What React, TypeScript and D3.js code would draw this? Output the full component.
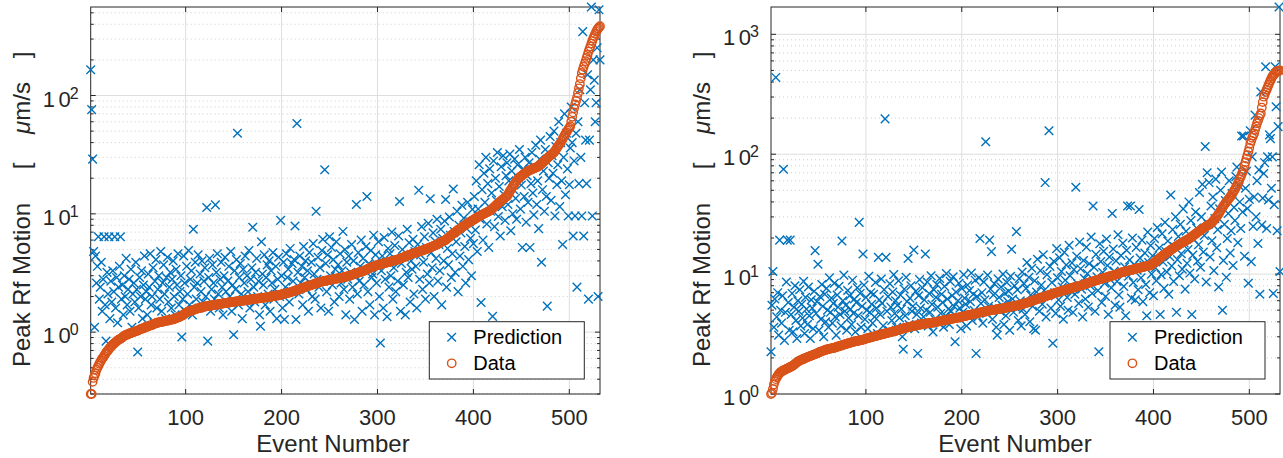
import React, { useEffect, useRef } from 'react'
import * as d3 from 'd3'

const W = 1283
const H = 458
const TOP = 7
const BOTTOM = 394
const FONT = '"Liberation Sans", Arial, Helvetica, sans-serif'
const INK = '#262626'
const BLUE = '#0072BD'
const ORANGE = '#D95319'

const xTicks = [100, 200, 300, 400, 500]
const legendLabels = ['Prediction', 'Data']
const xLabel = 'Event Number'
const nEvents = 532

// left panel: measured peak motion, sorted
const dataLeft = [
  0.30, 0.30, 0.38, 0.41, 0.43, 0.45, 0.48, 0.50, 0.52, 0.54, 0.56, 0.58, 0.60, 0.61,
  0.63, 0.65, 0.67, 0.69, 0.70, 0.72, 0.74, 0.75, 0.77, 0.78, 0.80, 0.81, 0.82, 0.84,
  0.85, 0.86, 0.87, 0.88, 0.89, 0.90, 0.92,
  0.93, 0.94, 0.95, 0.95, 0.96, 0.97, 0.98, 0.98, 0.99, 1.00, 1.00, 1.01, 1.02, 1.02, 1.03, 1.04, 1.05,
  1.06, 1.07, 1.07, 1.08, 1.09, 1.10, 1.11, 1.11, 1.12, 1.13, 1.14, 1.14, 1.15, 1.16, 1.17, 1.18, 1.19, 1.20,
  1.20, 1.21, 1.21, 1.22, 1.22, 1.23, 1.23, 1.24, 1.24, 1.25, 1.25, 1.26, 1.26, 1.27, 1.27, 1.28, 1.28,
  1.29, 1.30, 1.31, 1.32, 1.33, 1.34, 1.35, 1.36, 1.38, 1.39, 1.41, 1.43, 1.45, 1.47,
  1.48, 1.49, 1.50, 1.51, 1.52, 1.53, 1.54, 1.55, 1.56, 1.57, 1.58, 1.59, 1.60, 1.60, 1.61, 1.62, 1.63, 1.64, 1.64, 1.65, 1.66,
  1.66, 1.67, 1.67, 1.68, 1.68, 1.69, 1.69, 1.70, 1.70, 1.71, 1.71, 1.72, 1.72, 1.73, 1.73, 1.74, 1.75,
  1.75, 1.76, 1.76, 1.77, 1.77, 1.78, 1.78, 1.79, 1.79, 1.80, 1.80, 1.81, 1.81, 1.82, 1.82, 1.83, 1.83, 1.83,
  1.84, 1.84, 1.85, 1.85, 1.86, 1.86, 1.87, 1.87, 1.88, 1.88, 1.89, 1.89, 1.90, 1.90, 1.91, 1.91, 1.92,
  1.92, 1.93, 1.93, 1.94, 1.94, 1.95, 1.95, 1.96, 1.96, 1.97, 1.97, 1.98, 1.98, 1.99, 2.00, 2.00, 2.01, 2.02, 2.02, 2.03, 2.04, 2.04, 2.05, 2.06, 2.07, 2.08,
  2.09, 2.10, 2.11, 2.12, 2.13, 2.14, 2.15, 2.16, 2.17, 2.18, 2.20, 2.21, 2.22, 2.24, 2.25, 2.27, 2.28, 2.30, 2.31, 2.33, 2.34, 2.36, 2.38, 2.39, 2.41, 2.43,
  2.44, 2.46, 2.47, 2.49, 2.50, 2.52, 2.53, 2.55, 2.56, 2.58, 2.59, 2.61, 2.62, 2.64, 2.65, 2.67, 2.69,
  2.70, 2.71, 2.72, 2.73, 2.74, 2.75, 2.76, 2.77, 2.78, 2.79, 2.80, 2.81, 2.82, 2.83, 2.84, 2.85, 2.86, 2.87, 2.88, 2.89, 2.90, 2.91, 2.92, 2.94, 2.95, 2.96, 2.98, 3.00,
  3.02, 3.04, 3.06, 3.08, 3.10, 3.12, 3.14, 3.16, 3.18, 3.20, 3.22, 3.24, 3.26, 3.28, 3.30, 3.33, 3.36, 3.39, 3.42, 3.45, 3.48, 3.51, 3.54, 3.57, 3.60,
  3.62, 3.64, 3.66, 3.68, 3.70, 3.72, 3.74, 3.76, 3.78, 3.80, 3.82, 3.84, 3.86, 3.88, 3.90, 3.92, 3.94, 3.96, 3.98, 4.00, 4.02, 4.04, 4.06, 4.08, 4.10, 4.13, 4.16, 4.19, 4.22, 4.25, 4.28, 4.31, 4.35, 4.40,
  4.43, 4.46, 4.49, 4.52, 4.55, 4.58, 4.61, 4.64, 4.67, 4.70, 4.73, 4.76, 4.79, 4.82, 4.85, 4.88, 4.91, 4.94, 4.97, 5.00, 5.04, 5.08, 5.12, 5.16, 5.20, 5.24, 5.28, 5.32, 5.36, 5.40, 5.45, 5.50, 5.55, 5.60, 5.70,
  5.75, 5.80, 5.85, 5.90, 5.95, 6.0, 6.1, 6.2, 6.3, 6.4, 6.5, 6.6, 6.7, 6.8, 6.9, 7.0, 7.1,
  7.2, 7.3, 7.4, 7.5, 7.6, 7.7, 7.8, 7.9, 8.0, 8.1, 8.2, 8.3, 8.4, 8.5, 8.6, 8.7, 8.8, 8.9,
  9.0, 9.1, 9.2, 9.3, 9.4, 9.5, 9.6, 9.7, 9.8, 9.9, 10.0, 10.1, 10.2, 10.3, 10.4, 10.5, 10.6, 10.7,
  10.9, 11.1, 11.3, 11.5, 11.7, 11.9, 12.1, 12.3, 12.5, 12.7, 12.9, 13.1, 13.3, 13.5, 13.7, 13.9, 14.1,
  14.5, 15, 15.5, 16, 16.5, 17, 17.5, 18, 18.5, 19, 19.5, 20, 20.3, 20.6, 20.9, 21.2, 21.5, 21.8, 22.1, 22.4, 22.7,
  23, 23.2, 23.4, 23.6, 23.8, 24, 24.2, 24.4, 24.6, 24.8, 25, 25.3, 25.6, 26,
  26.5, 27, 27.5, 28, 28.5, 29, 29.5, 30, 30.5, 31, 31.5, 32, 32.5, 33,
  34, 35, 36, 37, 38, 39, 40,
  41.5, 43, 44.5, 46, 47.5, 49, 50.5, 52, 53.5, 55,
  60, 66, 72, 78, 84, 90, 96,
  105, 115, 125, 140, 155,
  165, 175, 185, 195, 208,
  220, 235, 248, 260,
  275, 290, 305, 318, 332, 347,
  358, 368, 377, 385,
]

const predLeft = [
  165, 76, 29, 4.8, 1.1, 4.4, 2.6, 3.6, 6.4, 1.9, 2.4, 3.9, 1.5, 2.8, 6.4, 1.7, 0.84, 3.2, 2.1, 6.4,
  1.3, 2.7, 1.8, 3.3, 2.2, 6.4, 1.6, 2.9, 1.2, 2.4, 3.6, 6.4, 1.9, 2.5, 1.4, 3.0, 2.0, 4.2, 1.7, 2.3,
  2.8, 1.5, 3.4, 1.1, 2.1, 2.6, 1.8, 3.9, 2.3, 0.68, 1.6, 2.9, 2.0, 3.3, 1.3, 2.5, 4.4, 1.9, 2.2, 1.4,
  3.1, 2.4, 4.6, 1.7, 2.0, 3.5, 1.2, 2.7, 4.1, 1.6, 2.3, 3.0, 1.9, 4.8, 1.5, 2.6, 3.7, 2.1, 1.3, 2.9,
  4.3, 1.8, 2.4, 3.2, 1.6, 2.8, 4.0, 2.0, 1.4, 3.4, 2.5, 4.6, 1.7, 2.2, 3.0, 0.91, 1.9, 4.4, 2.6, 1.5,
  3.6, 2.1, 4.9, 1.7, 2.8, 3.3, 1.4, 7.4, 2.4, 3.9, 1.9, 2.6, 4.5, 1.6, 3.1, 2.2, 4.0, 1.8, 2.7, 3.5,
  2.0, 11.3, 0.84, 2.9, 4.2, 1.5, 2.3, 3.7, 2.6, 1.9, 11.9, 3.2, 4.6, 2.1, 1.6, 2.8, 3.9, 2.4, 1.4, 3.0,
  4.3, 2.2, 1.8, 2.7, 3.6, 2.0, 4.8, 1.5, 2.5, 0.95, 3.3, 2.3, 4.1, 48, 1.7, 2.9, 3.8, 2.1, 1.3, 3.4,
  2.6, 4.4, 1.9, 3.0, 2.2, 4.9, 1.6, 2.8, 3.5, 7.7, 2.4, 1.8, 3.2, 4.2, 2.0, 2.7, 1.4, 1.12, 5.8, 3.1,
  2.5, 4.5, 1.7, 2.9, 3.7, 2.1, 4.0, 1.5, 3.3, 2.6, 4.7, 1.9, 2.3, 3.6, 1.3, 2.8, 4.3, 2.0, 8.8, 3.0,
  1.6, 3.9, 1.28, 2.4, 4.6, 2.9, 3.4, 1.8, 5.1, 2.2, 3.8, 2.7, 4.1, 7.9, 1.28, 58, 3.2, 2.1, 4.4, 2.6,
  3.6, 1.7, 5.3, 2.9, 4.0, 2.3, 3.3, 1.5, 4.7, 2.6, 3.9, 2.0, 5.6, 3.1, 1.9, 10.5, 2.8, 4.3, 2.4, 3.5,
  1.6, 4.9, 6.1, 2.7, 23.6, 3.8, 2.2, 4.5, 1.5, 6.4, 3.0, 5.2, 2.5, 4.1, 1.8, 3.4, 5.8, 2.9, 3.7, 2.0,
  4.6, 2.6, 3.3, 7.1, 2.3, 5.0, 1.4, 3.9, 2.8, 4.4, 1.9, 3.2, 5.5, 2.4, 4.0, 1.28, 3.0, 12, 2.1, 4.7,
  2.7, 3.6, 6.0, 1.5, 4.2, 2.5, 3.4, 5.3, 14, 2.2, 3.8, 1.7, 4.9, 2.9, 3.1, 6.6, 1.4, 4.5, 2.6, 3.7,
  5.8, 2.0, 0.81, 3.3, 4.4, 1.6, 6.3, 2.8, 3.9, 1.35, 5.1, 2.4, 4.6, 3.0, 7.0, 1.9, 3.5, 5.4, 2.2, 4.1,
  2.7, 6.5, 12.7, 1.5, 3.8, 5.0, 2.5, 4.3, 1.4, 3.2, 7.4, 2.9, 5.7, 1.8, 4.0, 3.4, 6.1, 2.1, 4.8, 3.6,
  1.6, 5.5, 15.8, 2.8, 4.5, 7.8, 2.3, 3.9, 6.4, 1.9, 5.2, 3.1, 8.3, 2.6, 13.4, 4.7, 3.5, 6.9, 2.0, 5.9,
  4.2, 9.0, 2.7, 5.5, 3.3, 7.4, 1.7, 6.2, 4.0, 8.7, 13.2, 2.4, 5.1, 3.7, 9.4, 6.6, 2.9, 4.6, 16.2, 7.1,
  3.2, 5.8, 10.5, 2.2, 8.0, 4.4, 6.9, 11.8, 3.6, 9.2, 5.3, 2.6, 7.5, 12.5, 4.1, 8.6, 6.2, 3.0, 10.9, 5.6,
  14, 7.3, 19, 4.8, 11, 26, 9.0, 1.78, 16, 6.0, 22, 12.5, 30, 8.2, 18, 5.2, 24, 10.5, 15, 1.36,
  28, 7.8, 20, 13, 33, 9.5, 17, 6.5, 25, 11.5, 31, 14.5, 8.8, 21, 27, 12, 19, 32, 7.2, 23,
  10, 16, 29, 13.5, 9.0, 26, 20, 35, 11, 17.5, 5.2, 24, 14, 30, 8.5, 21, 12.5, 27, 5.2, 18,
  33, 15, 9.8, 25, 38, 12, 19, 7.5, 29, 42, 3.9, 16, 23, 10.5, 35, 14, 1.66, 27, 20, 45,
  13, 31, 22, 50, 9.6, 37, 17.6, 26, 60, 11.5, 40, 19, 5.5, 30, 70, 14.5, 48, 24, 9.6, 17.6,
  36, 80, 40, 6.5, 28, 9.6, 48, 2.4, 60, 18, 112, 30, 9.6, 347, 6.5, 87, 42, 18, 150, 1.9,
  42, 112, 560, 9.6, 200, 135, 60, 87, 253, 2.0, 530, 200,
]

// right panel: measured peak motion, sorted
const dataRight = [
  1.0, 1.02, 1.1, 1.2, 1.28, 1.33, 1.38, 1.42, 1.46, 1.5,
  1.52, 1.54, 1.56, 1.57, 1.59, 1.6, 1.62, 1.63, 1.65, 1.66, 1.68, 1.69, 1.71, 1.73, 1.75, 1.78, 1.81, 1.84,
  1.86, 1.88, 1.9, 1.92, 1.93, 1.95, 1.96, 1.98, 2.0, 2.01, 2.03, 2.04, 2.06, 2.07, 2.09, 2.1, 2.12, 2.13, 2.15, 2.16, 2.18, 2.2, 2.22, 2.24,
  2.26, 2.27, 2.29, 2.3, 2.32, 2.33, 2.35, 2.36, 2.37, 2.38, 2.39, 2.4, 2.41, 2.42, 2.43, 2.44, 2.46, 2.48,
  2.49, 2.5, 2.52, 2.53, 2.55, 2.56, 2.58, 2.59, 2.61, 2.62, 2.64, 2.65, 2.67, 2.68, 2.7, 2.71, 2.73, 2.74, 2.75, 2.76, 2.77, 2.78, 2.79, 2.8, 2.81, 2.82, 2.84, 2.85, 2.87, 2.89, 2.91,
  2.92, 2.94, 2.95, 2.97, 2.98, 3.0, 3.01, 3.03, 3.04, 3.06, 3.07, 3.09, 3.1, 3.12, 3.13, 3.15, 3.16, 3.18, 3.19, 3.21, 3.22, 3.24, 3.25, 3.27, 3.28, 3.3, 3.31, 3.33, 3.34, 3.36, 3.38, 3.4, 3.42, 3.44, 3.46, 3.48, 3.5, 3.53,
  3.54, 3.56, 3.57, 3.59, 3.6, 3.62, 3.63, 3.65, 3.66, 3.68, 3.69, 3.71, 3.72, 3.74, 3.75, 3.77, 3.78, 3.8, 3.81, 3.83, 3.84, 3.85, 3.86, 3.87, 3.88, 3.89, 3.9, 3.91, 3.92, 3.93, 3.94, 3.95, 3.96, 3.98, 4.0,
  4.02, 4.03, 4.05, 4.06, 4.08, 4.09, 4.11, 4.12, 4.14, 4.15, 4.17, 4.18, 4.2, 4.21, 4.23, 4.24, 4.26, 4.27, 4.29, 4.3, 4.32, 4.33, 4.35, 4.36, 4.38, 4.4,
  4.42, 4.44, 4.46, 4.48, 4.5, 4.52, 4.54, 4.56, 4.58, 4.6, 4.62, 4.63, 4.65, 4.67, 4.69, 4.71, 4.73, 4.75, 4.77, 4.79, 4.81, 4.83, 4.84, 4.86, 4.88, 4.9, 4.92, 4.94, 4.96, 4.98, 5.0, 5.01, 5.03, 5.04, 5.06, 5.07, 5.09, 5.1, 5.12, 5.13, 5.15, 5.16, 5.18, 5.2,
  5.22, 5.24, 5.26, 5.28, 5.3, 5.32, 5.34, 5.36, 5.38, 5.4, 5.42, 5.44, 5.46, 5.48, 5.5, 5.52, 5.55, 5.58, 5.61, 5.64, 5.67, 5.7, 5.73, 5.76, 5.8, 5.84, 5.88,
  5.92, 5.96, 6.0, 6.04, 6.08, 6.12, 6.16, 6.2, 6.24, 6.28, 6.32, 6.36, 6.4, 6.44, 6.48, 6.52, 6.56, 6.6, 6.64, 6.68, 6.72, 6.76, 6.8, 6.85, 6.9,
  6.94, 6.98, 7.02, 7.06, 7.1, 7.14, 7.18, 7.22, 7.26, 7.3, 7.34, 7.38, 7.42, 7.46, 7.5, 7.54, 7.58, 7.62, 7.66, 7.7, 7.74, 7.78, 7.82, 7.86, 7.9, 7.94, 7.98, 8.02, 8.06, 8.1, 8.15, 8.2, 8.25, 8.3, 8.4,
  8.45, 8.5, 8.55, 8.6, 8.65, 8.7, 8.75, 8.8, 8.85, 8.9, 8.95, 9.0, 9.05, 9.1, 9.15, 9.2, 9.25, 9.3, 9.35, 9.4, 9.45, 9.5, 9.55, 9.6, 9.65, 9.7, 9.75, 9.8, 9.85, 9.9, 9.95, 10.0, 10.1, 10.2,
  10.3, 10.35, 10.4, 10.45, 10.5, 10.55, 10.6, 10.65, 10.7, 10.75, 10.8, 10.85, 10.9, 10.95, 11.0, 11.05, 11.1, 11.15, 11.2, 11.25, 11.3, 11.35, 11.4, 11.45, 11.5, 11.55, 11.6, 11.65, 11.7, 11.75, 11.8, 11.9, 12.0, 12.1, 12.3,
  12.5, 12.7, 12.9, 13.1, 13.3, 13.5, 13.7, 13.9, 14.1, 14.3, 14.5, 14.7, 14.9, 15.1, 15.3, 15.5, 15.7, 15.9, 16.1, 16.3, 16.5,
  16.7, 16.9, 17.1, 17.3, 17.5, 17.7, 17.9, 18.1, 18.3, 18.5, 18.7, 18.9, 19.1, 19.3, 19.5, 19.7, 19.9, 20.2, 20.5, 20.8, 21.1, 21.4, 21.7, 22.0, 22.3, 22.6, 22.9, 23.2,
  23.5, 23.8, 24.1, 24.4, 24.7, 25.0, 25.3, 25.6, 25.9, 26.2, 26.5, 27, 27.6, 28.2, 28.8, 29.5, 30.2, 31, 31.8, 32.8, 34,
  35, 36, 37, 38, 39, 40, 41, 42, 43, 44, 45, 46.5, 48, 49.5, 51, 53, 55, 57, 59,
  62, 65, 68, 71, 74, 80, 86, 92, 98, 105, 113, 123,
  130, 137, 143, 149, 160, 170, 181, 190, 200, 210, 219, 245, 272, 302,
  315, 330, 345, 360, 378, 395, 412, 428, 445, 455, 465, 475, 490, 493, 495, 497, 500,
]

const predRight = [
  2.25, 5.5, 10.5, 3.6, 6.2, 437, 4.4, 7.0, 3.1, 19.2, 5.0, 3.9, 6.6, 75, 2.8, 4.8, 8.6, 19.2, 5.8, 3.4,
  19.2, 4.6, 6.9, 3.3, 5.3, 8.0, 4.1, 2.9, 6.0, 4.9, 7.4, 3.7, 5.6, 4.3, 8.7, 3.2, 6.4, 5.1, 3.8, 7.8,
  4.5, 2.9, 6.1, 5.2, 3.5, 7.2, 15.7, 4.7, 5.9, 12.1, 3.4, 6.5, 4.2, 8.2, 5.4, 3.0, 6.8, 4.0, 7.6, 5.0,
  3.6, 9.3, 4.8, 6.3, 3.9, 5.7, 8.4, 4.4, 3.1, 6.7, 5.3, 7.9, 4.6, 3.7, 18.9, 6.0, 9.8, 4.9, 5.5, 3.4,
  7.3, 4.3, 6.6, 5.1, 3.8, 8.9, 4.7, 6.2, 3.3, 5.8, 7.7, 4.5, 27, 6.9, 3.6, 5.4, 14.7, 8.1, 4.2, 6.4,
  5.0, 3.5, 9.6, 4.8, 7.0, 5.6, 3.9, 6.8, 4.4, 8.5, 5.2, 3.2, 13.8, 6.1, 4.6, 9.1, 5.7, 3.7, 7.4, 197,
  13.8, 4.9, 6.5, 3.4, 8.3, 5.3, 4.1, 7.1, 9.9, 4.7, 6.0, 3.6, 5.5, 8.8, 4.3, 6.7, 5.1, 3.0, 2.36, 7.5,
  4.5, 9.4, 5.9, 13.5, 3.8, 6.3, 8.0, 4.9, 5.4, 15.9, 3.5, 7.2, 4.6, 2.18, 6.6, 9.0, 5.2, 3.9, 7.7, 4.4,
  6.1, 14.7, 5.0, 8.6, 3.7, 6.9, 4.8, 9.7, 5.6, 3.3, 7.4, 4.2, 6.4, 8.2, 5.3, 3.9, 9.2, 4.7, 6.8, 5.8,
  3.6, 7.9, 4.5, 10.1, 6.2, 5.1, 3.8, 8.7, 4.9, 6.6, 9.5, 5.4, 2.73, 7.1, 4.3, 6.0, 8.4, 5.2, 3.5, 7.6,
  4.8, 9.9, 6.3, 5.6, 3.7, 8.1, 4.6, 7.3, 5.9, 10.2, 4.1, 6.8, 5.0, 8.9, 2.18, 6.5, 4.4, 9.3, 19.8, 5.7,
  7.0, 3.9, 8.6, 6.1, 127, 4.7, 9.8, 5.4, 19.2, 7.5, 15.4, 4.2, 6.7, 8.3, 5.2, 3.6, 3.1, 9.1, 6.4, 4.9,
  7.8, 5.5, 10.0, 3.8, 6.9, 4.5, 8.5, 5.9, 7.2, 3.4, 9.6, 16.1, 6.2, 4.8, 8.0, 5.3, 22.6, 7.4, 4.1, 9.2,
  6.0, 3.7, 10.4, 5.1, 8.3, 4.6, 7.6, 12.5, 5.8, 9.4, 4.0, 6.7, 11.2, 5.4, 3.5, 8.8, 3.4, 7.1, 13.3, 6.3,
  4.9, 10.7, 8.1, 5.6, 14.5, 7.3, 58, 4.4, 9.9, 6.6, 157, 11.6, 5.2, 8.5, 2.65, 12.8, 7.0, 4.7, 16.3, 9.3,
  6.1, 13.7, 5.4, 10.5, 7.8, 4.2, 15.2, 8.9, 11.9, 6.4, 5.0, 17.4, 9.7, 7.2, 12.4, 4.8, 10.9, 6.8, 53, 14.1,
  8.3, 5.7, 18.5, 11.1, 7.5, 4.4, 13.0, 9.2, 6.2, 16.8, 10.1, 5.3, 12.2, 8.0, 20.4, 6.9, 37, 11.4, 4.9, 14.6,
  9.5, 7.3, 2.25, 17.9, 12.7, 5.8, 10.3, 15.5, 8.4, 6.5, 19.6, 11.8, 4.6, 13.9, 9.0, 7.7, 32, 16.2, 10.6, 5.5,
  12.9, 8.7, 21.3, 6.7, 5.3, 14.3, 10.2, 18.1, 7.9, 11.5, 4.5, 15.8, 37, 9.6, 13.1, 37, 6.3, 20.0, 8.5, 12.0,
  6.1, 16.7, 10.8, 7.4, 34.6, 13.6, 9.3, 19.2, 5.9, 11.9, 15.0, 8.2, 4.5, 22.4, 12.5, 7.0, 17.3, 10.0, 14.2, 6.6,
  19.8, 11.3, 8.8, 24.5, 13.4, 16.5, 4.6, 9.9, 21.7, 12.6, 7.6, 27, 15.4, 10.4, 18.9, 6.8, 14.0, 45.7, 11.7, 23.5,
  8.7, 16.9, 30, 4.8, 13.2, 20.6, 9.7, 26, 14.8, 11.0, 35, 18.2, 7.5, 22.8, 12.3, 16.0, 40, 10.2, 28, 4.6,
  14.4, 19.5, 9.1, 33, 24.2, 12.8, 17.6, 48, 11.4, 30, 56, 15.3, 21.0, 116, 8.6, 70, 26, 58, 13.9, 37,
  19.0, 44, 10.7, 29, 62, 16.6, 23.5, 7.8, 35, 50, 71, 5.0, 13.0, 26, 41, 9.4, 19.8, 32, 60, 15.0,
  23, 47, 11.8, 36, 28, 65, 78, 18.3, 55, 40, 24, 142, 33, 142, 14.1, 52, 72, 35.3, 8.4, 42,
  157, 12.7, 95, 25, 44, 212, 30, 60, 18, 74, 6.8, 331, 25.6, 43, 69, 85, 537, 24, 95, 41.5,
  145, 135, 52, 95, 6.9, 38, 537, 249, 23, 170, 1690, 10.5,
]

const panels = [
  { data: dataLeft, pred: predLeft, x0: 90.7, x1: 600, labelX: 333, legendX: 429.3 },
  { data: dataRight, pred: predRight, x0: 771, x1: 1280, labelX: 1015, legendX: 1110 },
]

const crossPath = 'M-4.3,-4.3L4.3,4.3M-4.3,4.3L4.3,-4.3'

function drawPanel(svg: any, p: any) {
  const x = d3.scaleLinear().domain([1, nEvents]).range([p.x0, p.x1])
  const ext = d3.extent([...p.data, ...p.pred]) as [number, number]
  const y = d3.scaleLog().domain(ext).range([BOTTOM, TOP])
  const [lo, hi] = ext

  const majors: number[] = []
  const minors: number[] = []
  for (let e = Math.floor(Math.log10(lo)); e <= Math.ceil(Math.log10(hi)); e++) {
    for (let k = 1; k < 10; k++) {
      const v = k * Math.pow(10, e)
      if (v < lo * 0.999 || v > hi * 1.001) continue
      if (k === 1) majors.push(v)
      else minors.push(v)
    }
  }

  const g = svg.append('g')

  // minor grid (dotted)
  g.append('g').selectAll('line').data(minors).join('line')
    .attr('x1', p.x0).attr('x2', p.x1)
    .attr('y1', (d: number) => y(d)).attr('y2', (d: number) => y(d))
    .attr('stroke', '#c2c2c2').attr('stroke-width', 0.8)
    .attr('stroke-dasharray', '1 3')

  // major grid
  g.append('g').selectAll('line').data(majors).join('line')
    .attr('x1', p.x0).attr('x2', p.x1)
    .attr('y1', (d: number) => y(d)).attr('y2', (d: number) => y(d))
    .attr('stroke', '#dedede').attr('stroke-width', 1)
  g.append('g').selectAll('line').data(xTicks).join('line')
    .attr('x1', (d: number) => x(d)).attr('x2', (d: number) => x(d))
    .attr('y1', TOP).attr('y2', BOTTOM)
    .attr('stroke', '#dedede').attr('stroke-width', 1)

  // box
  g.append('rect')
    .attr('x', p.x0).attr('y', TOP)
    .attr('width', p.x1 - p.x0).attr('height', BOTTOM - TOP)
    .attr('fill', 'none').attr('stroke', INK).attr('stroke-width', 1)

  // ticks
  const tk = g.append('g').attr('stroke', INK).attr('stroke-width', 1)
  xTicks.forEach(t => {
    tk.append('line').attr('x1', x(t)).attr('x2', x(t)).attr('y1', BOTTOM).attr('y2', BOTTOM - 5)
    tk.append('line').attr('x1', x(t)).attr('x2', x(t)).attr('y1', TOP).attr('y2', TOP + 5)
  })
  majors.forEach(v => {
    tk.append('line').attr('x1', p.x0).attr('x2', p.x0 + 5).attr('y1', y(v)).attr('y2', y(v))
    tk.append('line').attr('x1', p.x1).attr('x2', p.x1 - 5).attr('y1', y(v)).attr('y2', y(v))
  })
  minors.forEach(v => {
    tk.append('line').attr('x1', p.x0).attr('x2', p.x0 + 3).attr('y1', y(v)).attr('y2', y(v))
    tk.append('line').attr('x1', p.x1).attr('x2', p.x1 - 3).attr('y1', y(v)).attr('y2', y(v))
  })

  // x tick labels
  g.append('g').selectAll('text').data(xTicks).join('text')
    .attr('x', (d: number) => x(d)).attr('y', 425)
    .attr('text-anchor', 'middle')
    .attr('font-family', FONT).attr('font-size', 22).attr('fill', INK)
    .text((d: number) => d)

  // y tick labels 10^n
  majors.forEach(v => {
    const e = Math.round(Math.log10(v))
    const t = g.append('text')
      .attr('x', p.x0 - 20).attr('y', y(v) + 11)
      .attr('text-anchor', 'end')
      .attr('font-family', FONT).attr('font-size', 22).attr('fill', INK)
    t.append('tspan').text('1')
    t.append('tspan').attr('dx', 3.5).text('0')
    g.append('text')
      .attr('x', p.x0 - 21).attr('y', y(v) + 3)
      .attr('font-family', FONT).attr('font-size', 16).attr('fill', INK)
      .text(e)
  })

  // axis labels
  g.append('text')
    .attr('x', p.labelX).attr('y', 452)
    .attr('text-anchor', 'middle')
    .attr('font-family', FONT).attr('font-size', 24).attr('fill', INK)
    .text(xLabel)

  const yl = g.append('g')
    .attr('transform', `translate(${p.x0 - 61},0) rotate(-90)`)
    .attr('font-family', FONT).attr('font-size', 24).attr('fill', INK)
  yl.append('text').attr('x', -367).attr('y', 0).text('Peak Rf Motion')
  yl.append('text').attr('x', -166).attr('y', 0).attr('text-anchor', 'middle').text('[')
  const unit = yl.append('text').attr('x', -108).attr('y', 0).attr('text-anchor', 'middle')
  unit.append('tspan').attr('font-style', 'italic').text('\u03bc')
  unit.append('tspan').text('m/s')
  yl.append('text').attr('x', -55).attr('y', 0).attr('text-anchor', 'middle').text(']')

  // prediction crosses
  g.append('g').selectAll('path').data(p.pred).join('path')
    .attr('transform', (d: number, i: number) => `translate(${x(i + 1)},${y(d)})`)
    .attr('d', crossPath)
    .attr('fill', 'none').attr('stroke', BLUE).attr('stroke-width', 1.4)

  // measured circles
  g.append('g').selectAll('circle').data(p.data).join('circle')
    .attr('cx', (d: number, i: number) => x(i + 1)).attr('cy', (d: number) => y(d))
    .attr('r', 4.2)
    .attr('fill', 'none').attr('stroke', ORANGE).attr('stroke-width', 1.4)

  // legend
  const lg = g.append('g').attr('transform', `translate(${p.legendX},321.7)`)
  lg.append('rect').attr('width', 155).attr('height', 57.3)
    .attr('fill', '#fff').attr('stroke', INK).attr('stroke-width', 1)
  lg.append('path').attr('d', crossPath).attr('transform', 'translate(22.4,15.6)')
    .attr('fill', 'none').attr('stroke', BLUE).attr('stroke-width', 1.4)
  lg.append('circle').attr('cx', 22.4).attr('cy', 41.6).attr('r', 4.2)
    .attr('fill', 'none').attr('stroke', ORANGE).attr('stroke-width', 1.4)
  lg.selectAll('text.lab').data(legendLabels).join('text')
    .attr('class', 'lab')
    .attr('x', 44).attr('y', (d: string, i: number) => 22.3 + i * 26)
    .attr('font-family', FONT).attr('font-size', 20).attr('fill', '#000')
    .text((d: string) => d)
}

export default function App() {
  const ref = useRef<SVGSVGElement>(null)

  useEffect(() => {
    const svg = d3.select(ref.current)
    svg.selectAll('*').remove()
    svg.append('rect').attr('width', W).attr('height', H).attr('fill', '#fff')
    panels.forEach(p => drawPanel(svg, p))
  }, [])

  return (
    <svg
      ref={ref}
      width={W}
      height={H}
      style={{ position: 'absolute', left: 0, top: 0 }}
    />
  )
}
